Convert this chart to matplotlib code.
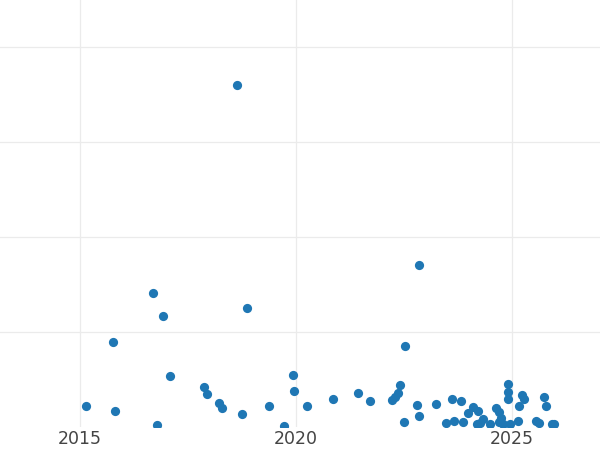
import matplotlib
matplotlib.use("Agg")
import matplotlib.pyplot as plt

# decimal year of each point and its value
years = [2015.14, 2015.77, 2015.81, 2016.69, 2016.79, 2016.93, 2017.08, 2017.88,
         2017.94, 2018.22, 2018.29, 2018.63, 2018.76, 2018.87, 2019.38, 2019.73,
         2019.93, 2019.95, 2020.25, 2020.86, 2021.43, 2021.71, 2022.23, 2022.29,
         2022.35, 2022.41, 2022.49, 2022.52, 2022.79, 2022.85, 2022.85, 2023.23,
         2023.47, 2023.60, 2023.66, 2023.83, 2023.87, 2023.98, 2024.09, 2024.21,
         2024.18, 2024.26, 2024.32, 2024.48, 2024.63, 2024.69, 2024.75, 2024.71,
         2024.79, 2024.90, 2024.90, 2024.90, 2024.95, 2025.13, 2025.16, 2025.24,
         2025.28, 2025.56, 2025.63, 2025.75, 2025.78, 2025.92, 2025.97]
values = [2.26, 8.95, 1.68, 14.07, 0.21, 11.68, 5.37, 4.18,
          3.47, 2.51, 1.97, 36.0, 1.37, 12.49, 2.18, 0.10,
          5.47, 3.77, 2.18, 2.97, 3.58, 2.77, 2.87, 3.13,
          3.58, 4.39, 0.49, 8.49, 2.28, 17.05, 1.16, 2.39,
          0.39, 2.98, 0.63, 2.77, 0.49, 1.51, 2.07, 1.72,
          0.32, 0.45, 0.81, 0.32, 1.97, 1.55, 0.98, 0.49,
          0.32, 4.53, 3.68, 2.98, 0.32, 0.60, 2.18, 3.34,
          2.98, 0.66, 0.45, 3.13, 2.24, 0.28, 0.28]

x_ticks = [2015, 2020, 2025]
y_grid = [10, 20, 30, 40]

fig = plt.figure(figsize=(6, 4.5), dpi=100)
ax = fig.add_axes([0, 23 / 450, 1, 427 / 450])

ax.scatter(years, values, s=44, color="#1f77b4", linewidths=0, zorder=3)

ax.set_xlim(2013.148, 2027.037)
ax.set_ylim(0, 427 / 9.5)
ax.set_xticks(x_ticks)
ax.set_xticklabels([str(t) for t in x_ticks])
ax.set_yticks(y_grid)
ax.set_yticklabels([])
ax.grid(True, color="#ebebeb", linewidth=0.9, zorder=0)
ax.tick_params(axis="both", length=0)
ax.tick_params(axis="x", labelsize=12.5, labelcolor="#444444", pad=2)
for s in ax.spines.values():
    s.set_visible(False)

fig.savefig("out.png", dpi=100)
